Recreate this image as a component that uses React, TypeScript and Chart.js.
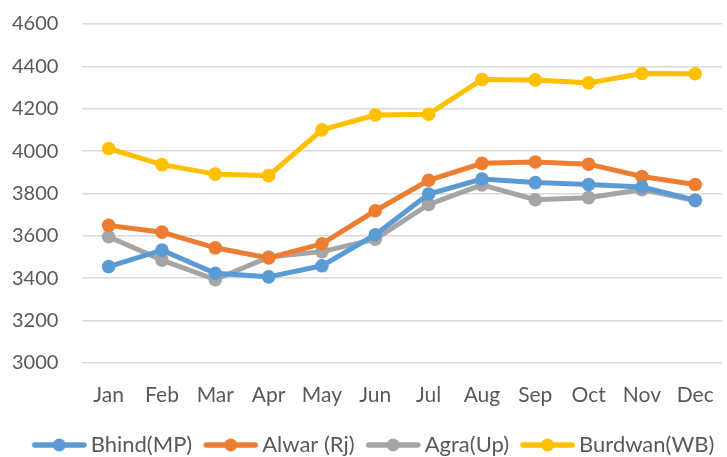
import React, { useEffect, useRef } from "react";
import { Chart, registerables } from "chart.js";

Chart.register(...registerables);

const months = ["Jan", "Feb", "Mar", "Apr", "May", "Jun", "Jul", "Aug", "Sep", "Oct", "Nov", "Dec"];
const bhind = [3454, 3532, 3423, 3406, 3458, 3605, 3797, 3868, 3851, 3842, 3830, 3768];
const alwar = [3649, 3617, 3543, 3495, 3562, 3718, 3862, 3942, 3948, 3938, 3880, 3842];
const agra = [3595, 3485, 3393, 3499, 3525, 3584, 3748, 3840, 3770, 3780, 3818, 3766];
const burdwan = [4012, 3936, 3891, 3884, 4100, 4170, 4174, 4338, 4336, 4322, 4366, 4365];
const seriesNames = ["Bhind(MP)", "Alwar (Rj)", "Agra(Up)", "Burdwan(WB)"];
const colors = ["#5B9BD5", "#ED7D31", "#A5A5A5", "#FFC000"];

// legend marker image: 62 wide, centred on box centre (x+24); visible from x to x+55
function legendMarker(color: string): HTMLCanvasElement {
  const c = document.createElement("canvas");
  c.width = 62;
  c.height = 16;
  const ctx = c.getContext("2d")!;
  ctx.strokeStyle = color;
  ctx.lineWidth = 5.5;
  ctx.lineCap = "round";
  ctx.beginPath();
  ctx.moveTo(10, 8);
  ctx.lineTo(59, 8);
  ctx.stroke();
  ctx.fillStyle = color;
  ctx.beginPath();
  ctx.arc(34.5, 8, 6.5, 0, Math.PI * 2);
  ctx.fill();
  return c;
}

export default function App() {
  const ref = useRef<HTMLCanvasElement | null>(null);
  useEffect(() => {
    if (!ref.current) return;
    const data = [bhind, alwar, agra, burdwan];
    const markers = colors.map(legendMarker);
    const chart = new Chart(ref.current, {
      type: "line",
      data: {
        labels: months,
        datasets: data.map((d, i) => ({
          label: seriesNames[i],
          data: d,
          borderColor: colors[i],
          backgroundColor: colors[i],
          borderWidth: 5,
          pointRadius: 6.8,
          pointHoverRadius: 6.8,
          pointBorderWidth: 0,
          pointStyle: "circle",
          tension: 0,
        })),
      },
      options: {
        animation: false,
        responsive: false,
        maintainAspectRatio: false,
        layout: { padding: { top: 24, right: 0, bottom: 0, left: 12 } },
        scales: {
          x: {
            offset: true,
            grid: { display: false, drawTicks: false },
            border: { display: false },
            ticks: { color: "#595959", font: { family: "Lato", size: 21 }, padding: 20 },
            afterFit: (s: any) => {
              s.height -= 5;
            },
          },
          y: {
            min: 3000,
            max: 4600,
            ticks: {
              stepSize: 200,
              color: "#595959",
              font: { family: "Lato", size: 20 },
              padding: 0,
              crossAlign: "far",
              callback: (v: any) => String(v),
            },
            grid: { color: "#D9D9D9", lineWidth: 1.5, drawTicks: false },
            border: { display: false },
            afterFit: (s: any) => {
              s.width = 70;
            },
          },
        },
        plugins: {
          legend: {
            position: "bottom",
            labels: {
              usePointStyle: true,
              pointStyleWidth: 48,
              color: "#595959",
              font: { family: "Lato", size: 22 },
              padding: 11,
              generateLabels: () =>
                seriesNames.map((name, i) => ({
                  text: name,
                  pointStyle: markers[i],
                  fillStyle: colors[i],
                  strokeStyle: colors[i],
                  lineWidth: 0,
                  hidden: false,
                  datasetIndex: i,
                  fontColor: "#595959",
                })),
            },
          },
          tooltip: { enabled: false },
        },
      },
    });
    return () => chart.destroy();
  }, []);
  return (
    <div style={{ position: "absolute", left: 0, top: 0, width: 727, height: 457, overflow: "hidden", background: "#fff" }}>
      <canvas ref={ref} width={734} height={466} style={{ width: 734, height: 466, display: "block" }} />
    </div>
  );
}
